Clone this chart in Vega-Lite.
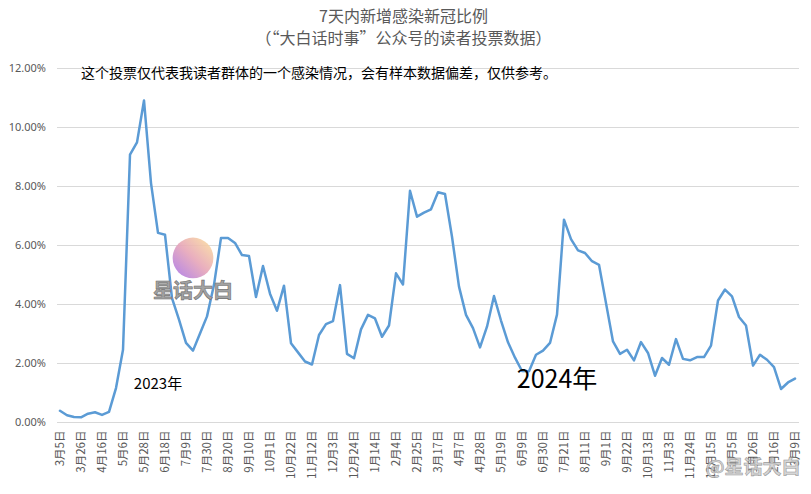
{
  "$schema": "https://vega.github.io/schema/vega-lite/v6.json",
  "width": 742,
  "height": 354,
  "autosize": {"type": "none"},
  "padding": {"left": 56.5, "top": 68, "right": 12.5, "bottom": 72},
  "background": "#ffffff",
  "config": {"view": {"stroke": null}, "font": "Noto Sans CJK SC"},
  "title": {
    "text": ["7天内新增感染新冠比例", "（“大白话时事”公众号的读者投票数据）"],
    "font": "Noto Sans CJK SC",
    "fontSize": 16,
    "fontWeight": "normal",
    "color": "#595959",
    "lineHeight": 22,
    "anchor": "middle",
    "dx": -24,
    "offset": 15
  },
  "datasets": {
    "series": [
      {"date": "2023-03-05", "v": 0.0038},
      {"date": "2023-03-12", "v": 0.0023},
      {"date": "2023-03-19", "v": 0.0017},
      {"date": "2023-03-26", "v": 0.0016},
      {"date": "2023-04-02", "v": 0.0028},
      {"date": "2023-04-09", "v": 0.0033},
      {"date": "2023-04-16", "v": 0.0024},
      {"date": "2023-04-23", "v": 0.0034},
      {"date": "2023-04-30", "v": 0.0115},
      {"date": "2023-05-06", "v": 0.0245},
      {"date": "2023-05-14", "v": 0.0906},
      {"date": "2023-05-21", "v": 0.0948},
      {"date": "2023-05-28", "v": 0.1090},
      {"date": "2023-06-04", "v": 0.0810},
      {"date": "2023-06-11", "v": 0.0641},
      {"date": "2023-06-18", "v": 0.0635},
      {"date": "2023-06-25", "v": 0.0420},
      {"date": "2023-07-02", "v": 0.0347},
      {"date": "2023-07-09", "v": 0.0268},
      {"date": "2023-07-16", "v": 0.0242},
      {"date": "2023-07-23", "v": 0.0300},
      {"date": "2023-07-30", "v": 0.0358},
      {"date": "2023-08-06", "v": 0.0465},
      {"date": "2023-08-13", "v": 0.0624},
      {"date": "2023-08-20", "v": 0.0624},
      {"date": "2023-08-27", "v": 0.0607},
      {"date": "2023-09-03", "v": 0.0566},
      {"date": "2023-09-10", "v": 0.0563},
      {"date": "2023-09-17", "v": 0.0424},
      {"date": "2023-09-24", "v": 0.0529},
      {"date": "2023-10-01", "v": 0.0435},
      {"date": "2023-10-08", "v": 0.0377},
      {"date": "2023-10-15", "v": 0.0462},
      {"date": "2023-10-22", "v": 0.0267},
      {"date": "2023-10-29", "v": 0.0236},
      {"date": "2023-11-05", "v": 0.0205},
      {"date": "2023-11-12", "v": 0.0195},
      {"date": "2023-11-19", "v": 0.0295},
      {"date": "2023-11-26", "v": 0.0332},
      {"date": "2023-12-03", "v": 0.0342},
      {"date": "2023-12-10", "v": 0.0464},
      {"date": "2023-12-17", "v": 0.0231},
      {"date": "2023-12-24", "v": 0.0216},
      {"date": "2023-12-31", "v": 0.0314},
      {"date": "2024-01-07", "v": 0.0363},
      {"date": "2024-01-14", "v": 0.0351},
      {"date": "2024-01-21", "v": 0.0289},
      {"date": "2024-01-28", "v": 0.0327},
      {"date": "2024-02-04", "v": 0.0504},
      {"date": "2024-02-11", "v": 0.0466},
      {"date": "2024-02-18", "v": 0.0784},
      {"date": "2024-02-25", "v": 0.0696},
      {"date": "2024-03-03", "v": 0.0710},
      {"date": "2024-03-10", "v": 0.0721},
      {"date": "2024-03-17", "v": 0.0779},
      {"date": "2024-03-24", "v": 0.0773},
      {"date": "2024-03-31", "v": 0.0628},
      {"date": "2024-04-07", "v": 0.0459},
      {"date": "2024-04-14", "v": 0.0363},
      {"date": "2024-04-21", "v": 0.0318},
      {"date": "2024-04-28", "v": 0.0253},
      {"date": "2024-05-05", "v": 0.0323},
      {"date": "2024-05-12", "v": 0.0427},
      {"date": "2024-05-19", "v": 0.0344},
      {"date": "2024-05-26", "v": 0.0270},
      {"date": "2024-06-02", "v": 0.0218},
      {"date": "2024-06-09", "v": 0.0173},
      {"date": "2024-06-16", "v": 0.0172},
      {"date": "2024-06-23", "v": 0.0228},
      {"date": "2024-06-30", "v": 0.0242},
      {"date": "2024-07-07", "v": 0.0268},
      {"date": "2024-07-14", "v": 0.0364},
      {"date": "2024-07-21", "v": 0.0686},
      {"date": "2024-07-28", "v": 0.0620},
      {"date": "2024-08-04", "v": 0.0582},
      {"date": "2024-08-11", "v": 0.0573},
      {"date": "2024-08-18", "v": 0.0545},
      {"date": "2024-08-25", "v": 0.0533},
      {"date": "2024-09-01", "v": 0.0403},
      {"date": "2024-09-08", "v": 0.0273},
      {"date": "2024-09-15", "v": 0.0231},
      {"date": "2024-09-22", "v": 0.0245},
      {"date": "2024-09-29", "v": 0.0209},
      {"date": "2024-10-06", "v": 0.0271},
      {"date": "2024-10-13", "v": 0.0234},
      {"date": "2024-10-20", "v": 0.0157},
      {"date": "2024-10-27", "v": 0.0217},
      {"date": "2024-11-03", "v": 0.0194},
      {"date": "2024-11-10", "v": 0.0281},
      {"date": "2024-11-17", "v": 0.0214},
      {"date": "2024-11-24", "v": 0.0209},
      {"date": "2024-12-01", "v": 0.0220},
      {"date": "2024-12-08", "v": 0.0220},
      {"date": "2024-12-15", "v": 0.0259},
      {"date": "2024-12-22", "v": 0.0412},
      {"date": "2024-12-29", "v": 0.0449},
      {"date": "2025-01-05", "v": 0.0426},
      {"date": "2025-01-12", "v": 0.0356},
      {"date": "2025-01-19", "v": 0.0327},
      {"date": "2025-01-26", "v": 0.0191},
      {"date": "2025-02-02", "v": 0.0228},
      {"date": "2025-02-09", "v": 0.0211},
      {"date": "2025-02-16", "v": 0.0186},
      {"date": "2025-02-23", "v": 0.0112},
      {"date": "2025-03-02", "v": 0.0134},
      {"date": "2025-03-09", "v": 0.0147}
    ]
  },
  "layer": [
    {
      "data": {"name": "series"},
      "mark": {"type": "line", "color": "#5B9BD5", "strokeWidth": 2.5, "strokeJoin": "round", "strokeCap": "round"},
      "encoding": {
        "x": {
          "field": "date",
          "type": "ordinal",
          "scale": {"type": "point", "padding": 0.5},
          "axis": {
            "title": null,
            "values": ["2023-03-05", "2023-03-26", "2023-04-16", "2023-05-06", "2023-05-28", "2023-06-18", "2023-07-09", "2023-07-30", "2023-08-20", "2023-09-10", "2023-10-01", "2023-10-22", "2023-11-12", "2023-12-03", "2023-12-24", "2024-01-14", "2024-02-04", "2024-02-25", "2024-03-17", "2024-04-07", "2024-04-28", "2024-05-19", "2024-06-09", "2024-06-30", "2024-07-21", "2024-08-11", "2024-09-01", "2024-09-22", "2024-10-13", "2024-11-03", "2024-11-24", "2024-12-15", "2025-01-05", "2025-01-26", "2025-02-16", "2025-03-09"],
            "labelExpr": "toNumber(slice(datum.value, 5, 7)) + '月' + toNumber(slice(datum.value, 8, 10)) + '日'",
            "labelAngle": -90,
            "labelFont": "Noto Sans CJK SC",
            "labelFontSize": 11.5,
            "labelColor": "#595959",
            "labelPadding": 8,
            "labelOverlap": false,
            "labelBound": false,
            "labelFlush": false,
            "ticks": false,
            "domain": false,
            "grid": false
          }
        },
        "y": {
          "field": "v",
          "type": "quantitative",
          "scale": {"domain": [0, 0.12], "nice": false, "zero": true},
          "axis": {
            "title": null,
            "values": [0, 0.02, 0.04, 0.06, 0.08, 0.1, 0.12],
            "format": ".2%",
            "labelFont": "Noto Sans",
            "labelFontSize": 11,
            "labelColor": "#595959",
            "labelPadding": 11,
            "ticks": false,
            "domain": false,
            "grid": true,
            "gridColor": "#d9d9d9",
            "gridWidth": 1
          }
        }
      }
    },
    {
      "data": {"values": [{}]},
      "mark": {"type": "point", "filled": true, "size": 1660, "strokeWidth": 0, "opacity": 0.9,
        "fill": {"gradient": "linear", "x1": 1, "y1": 0, "x2": 0, "y2": 1, "stops": [{"offset": 0, "color": "#fde39b"}, {"offset": 0.5, "color": "#e6a5b8"}, {"offset": 1, "color": "#a672ea"}]}},
      "encoding": {"x": {"datum": "2023-07-16", "type": "ordinal"}, "y": {"datum": 0.0556, "type": "quantitative"}}
    },
    {
      "data": {"values": [{}]},
      "mark": {"type": "text", "text": "星话大白", "font": "Noto Sans CJK SC", "fontSize": 20, "fontWeight": "bold", "fill": "#a3a3a3", "stroke": "#6e6e6e", "strokeWidth": 0.6, "align": "center", "baseline": "middle"},
      "encoding": {"x": {"datum": "2023-07-16", "type": "ordinal"}, "y": {"datum": 0.0441, "type": "quantitative"}}
    },
    {
      "data": {"values": [{}]},
      "mark": {"type": "text", "text": "这个投票仅代表我读者群体的一个感染情况，会有样本数据偏差，仅供参考。", "font": "Noto Sans CJK SC", "fontSize": 14, "color": "#000000", "align": "center", "baseline": "middle"},
      "encoding": {"x": {"datum": "2023-11-19", "type": "ordinal"}, "y": {"datum": 0.118, "type": "quantitative"}}
    },
    {
      "data": {"values": [{}]},
      "mark": {"type": "text", "text": "2023年", "font": "Noto Sans CJK SC", "fontSize": 15, "color": "#000000", "align": "center", "baseline": "middle"},
      "encoding": {"x": {"datum": "2023-06-11", "type": "ordinal"}, "y": {"datum": 0.0129, "type": "quantitative"}}
    },
    {
      "data": {"values": [{}]},
      "mark": {"type": "text", "text": "2024年", "font": "Noto Sans CJK SC", "fontSize": 25, "color": "#000000", "align": "center", "baseline": "middle"},
      "encoding": {"x": {"datum": "2024-07-14", "type": "ordinal"}, "y": {"datum": 0.0142, "type": "quantitative"}}
    },
    {
      "data": {"values": [{}]},
      "mark": {"type": "text", "text": "@星话大白", "font": "Noto Sans CJK SC", "fontSize": 19, "fontWeight": "bold", "fill": "#cfcfcf", "stroke": "#8a8a8a", "strokeWidth": 0.6, "opacity": 0.85, "align": "center", "baseline": "middle"},
      "encoding": {"x": {"datum": "2025-01-26", "type": "ordinal"}, "y": {"datum": -0.0156, "type": "quantitative"}}
    }
  ]
}
